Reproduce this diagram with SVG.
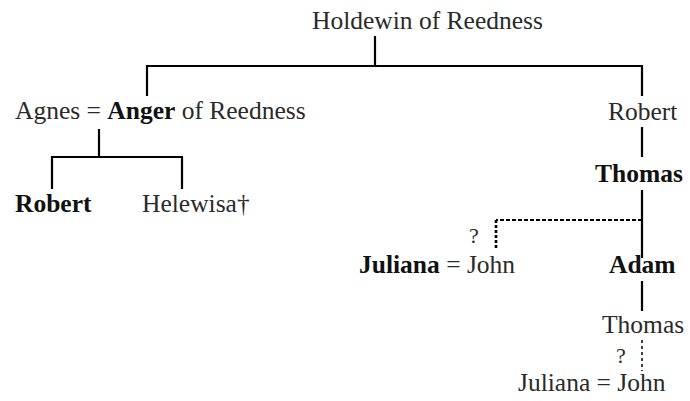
<svg xmlns="http://www.w3.org/2000/svg" width="690" height="401" viewBox="0 0 690 401">
<style>
text{font-family:"Liberation Serif","Times New Roman",serif;font-size:25.5px;fill:#2a2a2a}
.b{font-weight:bold;fill:#111}
.q{font-size:22px}
.l{stroke:#000;stroke-width:2.2;fill:none}
.d{stroke:#000;stroke-width:2;fill:none;stroke-dasharray:4 2}
.dv{stroke:#000;stroke-width:2.6;fill:none;stroke-dasharray:3 2}
.dt{stroke:#000;stroke-width:1.5;fill:none;stroke-dasharray:3 3}
</style>
<rect width="690" height="401" fill="#fff"/>
<g id="connectors">
<path class="l" d="M375 36V66M147 96V66H642V96"/>
<path class="l" d="M99 129V157M52 189V157H182V189"/>
<path class="l" d="M642 127V157M642 190V258M642 281V311"/>
<path class="d" d="M642 220H496"/>
<path class="dv" d="M496 220V250"/>
<path class="dt" d="M642 340V371"/>
</g>
<g id="holdewin"><text x="312" y="29">Holdewin of Reedness</text></g>
<g id="agnes-anger"><text x="15" y="119">Agnes = <tspan class="b">Anger</tspan> of Reedness</text></g>
<g id="robert-1"><text x="608" y="120">Robert</text></g>
<g id="robert-2"><text class="b" x="15" y="212">Robert</text></g>
<g id="helewisa"><text x="142" y="212">Helewisa†</text></g>
<g id="thomas-1"><text class="b" x="595" y="182">Thomas</text></g>
<g id="juliana-john-1"><text class="q" x="469" y="243">?</text><text x="359" y="273"><tspan class="b">Juliana</tspan> = John</text></g>
<g id="adam"><text class="b" x="609" y="273">Adam</text></g>
<g id="thomas-2"><text x="602" y="333">Thomas</text></g>
<g id="juliana-john-2"><text class="q" x="616" y="363">?</text><text x="518" y="391">Juliana = John</text></g>
</svg>
